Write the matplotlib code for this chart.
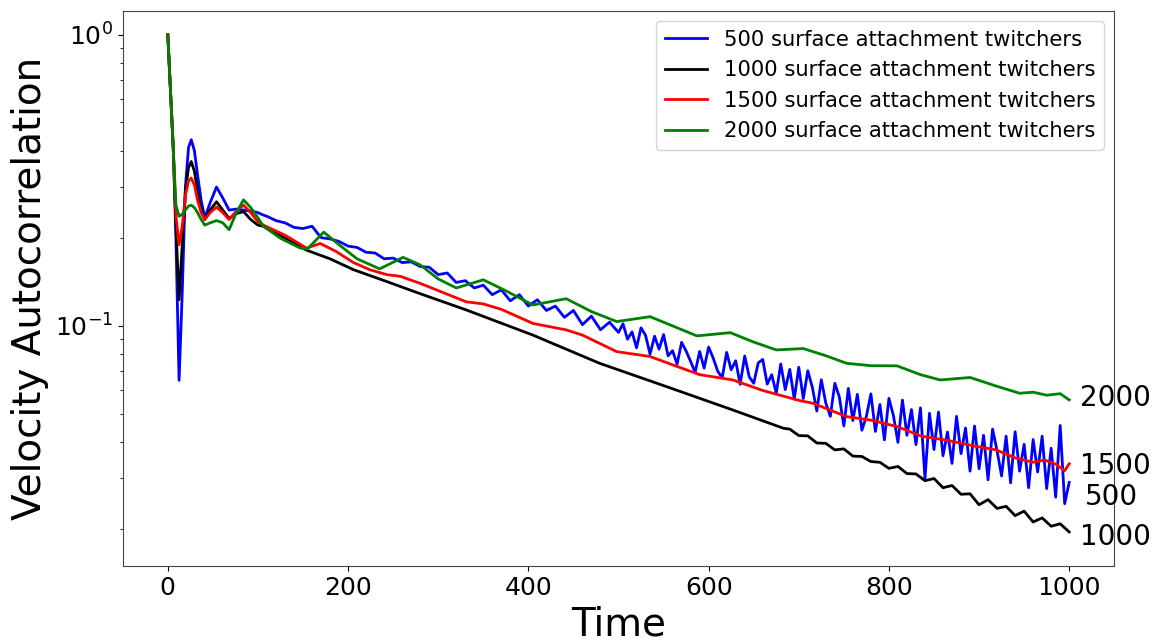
import numpy as np
import matplotlib
matplotlib.use("Agg")
import matplotlib.pyplot as plt

# early oscillating part, shared time grid
t_early = [0, 3, 6, 9, 12.5, 16, 19.5, 23, 26, 29.5, 33, 37, 41, 47, 54, 61, 68, 76, 84, 92, 100]
blue_early = [1.0, 0.64, 0.41, 0.2, 0.065, 0.13, 0.3, 0.41, 0.436, 0.40, 0.33, 0.27, 0.235, 0.265, 0.30, 0.275, 0.25, 0.252, 0.25, 0.248, 0.245]
black_early = [1.0, 0.64, 0.41, 0.22, 0.123, 0.19, 0.29, 0.35, 0.367, 0.34, 0.29, 0.25, 0.232, 0.25, 0.267, 0.25, 0.234, 0.243, 0.247, 0.232, 0.222]
red_early = [1.0, 0.64, 0.41, 0.24, 0.19, 0.22, 0.28, 0.315, 0.322, 0.305, 0.27, 0.245, 0.232, 0.245, 0.256, 0.245, 0.232, 0.248, 0.26, 0.245, 0.228]
green_early = [1.0, 0.64, 0.41, 0.26, 0.238, 0.242, 0.25, 0.258, 0.26, 0.255, 0.245, 0.232, 0.222, 0.226, 0.23, 0.226, 0.214, 0.245, 0.271, 0.255, 0.235]

# later part
t_black = [106, 130, 154, 180, 206, 243, 280, 331, 405, 479, 553, 627, 683] + list(range(690, 1001, 10))
v_black = [0.22, 0.20, 0.182, 0.17, 0.156, 0.142, 0.129, 0.1135, 0.093, 0.0744, 0.0619, 0.0514, 0.0445,
           0.0442, 0.0420, 0.0419, 0.0396, 0.0395, 0.0375, 0.0378, 0.0357, 0.0356, 0.0342, 0.0340,
           0.0324, 0.0329, 0.0311, 0.0310, 0.0294, 0.0299, 0.0278, 0.0283, 0.0264, 0.0265, 0.0243,
           0.0253, 0.0236, 0.0240, 0.0223, 0.0231, 0.0212, 0.0219, 0.0205, 0.0209, 0.0196]

t_red = [106, 130, 154, 169, 187, 206, 224, 243, 258, 280, 331, 350, 370, 405, 442, 460, 498, 535, 560,
         590, 627, 660, 701, 716, 753, 781, 809, 836, 864, 892, 919, 940, 960, 973, 985, 995, 1000]
v_red = [0.222, 0.205, 0.185, 0.192, 0.18, 0.165, 0.156, 0.15, 0.148, 0.140, 0.121, 0.119, 0.114, 0.102,
         0.0969, 0.093, 0.0816, 0.0785, 0.0735, 0.068, 0.0652, 0.06, 0.0554, 0.0542, 0.0488, 0.0474,
         0.0451, 0.0418, 0.0405, 0.0388, 0.0375, 0.0352, 0.0340, 0.0346, 0.0335, 0.0318, 0.0336]

t_green = [106, 125, 147, 155, 173, 190, 210, 235, 261, 280, 300, 320, 350, 375, 405, 442, 470, 498, 535,
           560, 587, 624, 650, 675, 705, 730, 753, 780, 809, 835, 857, 890, 920, 945, 960, 975, 990, 1000]
v_green = [0.22, 0.2, 0.185, 0.184, 0.21, 0.19, 0.17, 0.157, 0.172, 0.162, 0.145, 0.135, 0.144, 0.132,
           0.118, 0.124, 0.112, 0.1035, 0.1076, 0.1, 0.0924, 0.0948, 0.088, 0.0827, 0.0836, 0.0790,
           0.0744, 0.073, 0.0729, 0.068, 0.0652, 0.0665, 0.062, 0.0587, 0.0592, 0.0578, 0.0585, 0.0557]

# 500 twitchers: noisy, 10-step until 500 then 5-step
t_blue1 = list(range(110, 501, 10))
v_blue1 = [0.238, 0.230, 0.226, 0.218, 0.216, 0.220, 0.201, 0.199, 0.195, 0.188, 0.186, 0.179, 0.178, 0.170,
           0.171, 0.165, 0.166, 0.160, 0.159, 0.150, 0.152, 0.141, 0.143, 0.135, 0.138, 0.128, 0.133, 0.122,
           0.128, 0.117, 0.123, 0.113, 0.117, 0.107, 0.113, 0.101, 0.108, 0.097, 0.103, 0.095]
t_blue2 = list(range(505, 1001, 5))
v_blue2 = [0.1017, 0.0900, 0.0954, 0.0841, 0.0985, 0.0928, 0.0800, 0.0922, 0.0832, 0.0934,
           0.0789, 0.0822, 0.0739, 0.0878, 0.0820, 0.0755, 0.0692, 0.0817, 0.0716, 0.0846,
           0.0776, 0.0700, 0.0663, 0.0811, 0.0707, 0.0759, 0.0630, 0.0788, 0.0669, 0.0635,
           0.0746, 0.0767, 0.0631, 0.0680, 0.0587, 0.0740, 0.0604, 0.0709, 0.0560, 0.0721,
           0.0563, 0.0701, 0.0616, 0.0510, 0.0653, 0.0543, 0.0489, 0.0635, 0.0570, 0.0453,
           0.0610, 0.0473, 0.0582, 0.0438, 0.0489, 0.0584, 0.0434, 0.0537, 0.0406, 0.0564,
           0.0492, 0.0398, 0.0556, 0.0421, 0.0516, 0.0391, 0.0523, 0.0298, 0.0501, 0.0376,
           0.0506, 0.0358, 0.0432, 0.0337, 0.0489, 0.0364, 0.0446, 0.0317, 0.0453, 0.0323,
           0.0421, 0.0296, 0.0442, 0.0372, 0.0305, 0.0418, 0.0289, 0.0433, 0.0317, 0.0392,
           0.0278, 0.0407, 0.0315, 0.0418, 0.0276, 0.0380, 0.0258, 0.0455, 0.0245, 0.029]

labels = ["500 surface attachment twitchers", "1000 surface attachment twitchers",
          "1500 surface attachment twitchers", "2000 surface attachment twitchers"]
end_names = ["2000", "1500", "500", "1000"]
end_x = [1012, 1012, 1017, 1012]
end_y = [0.0566, 0.0330, 0.0258, 0.0188]

fig = plt.figure(figsize=(11.59, 6.42), dpi=100)
ax = fig.add_subplot(111)
fig.subplots_adjust(left=0.1059, right=0.9614, bottom=0.1184, top=0.9833)

ax.plot(t_early + [105] + t_blue1 + t_blue2, blue_early + [0.241] + v_blue1 + v_blue2, color="blue", lw=2, label=labels[0])
ax.plot(t_early + t_black, black_early + v_black, color="black", lw=2, label=labels[1])
ax.plot(t_early + t_red, red_early + v_red, color="red", lw=2, label=labels[2])
ax.plot(t_early + t_green, green_early + v_green, color="green", lw=2, label=labels[3])

ax.set_yscale("log")
ax.set_xlim(-50, 1050)
ax.set_ylim(0.01497, 1.21)
ax.set_xlabel("Time", fontsize=28)
ax.set_ylabel("Velocity Autocorrelation", fontsize=28)
ax.tick_params(labelsize=18)
for sp in ax.spines.values():
    sp.set_edgecolor("#444444")

for name, x, y in zip(end_names, end_x, end_y):
    ax.text(x, y, name, fontsize=20, va="center", ha="left")

ax.legend(loc="upper right", fontsize=15.2)

fig.savefig("out.png", dpi=100)
